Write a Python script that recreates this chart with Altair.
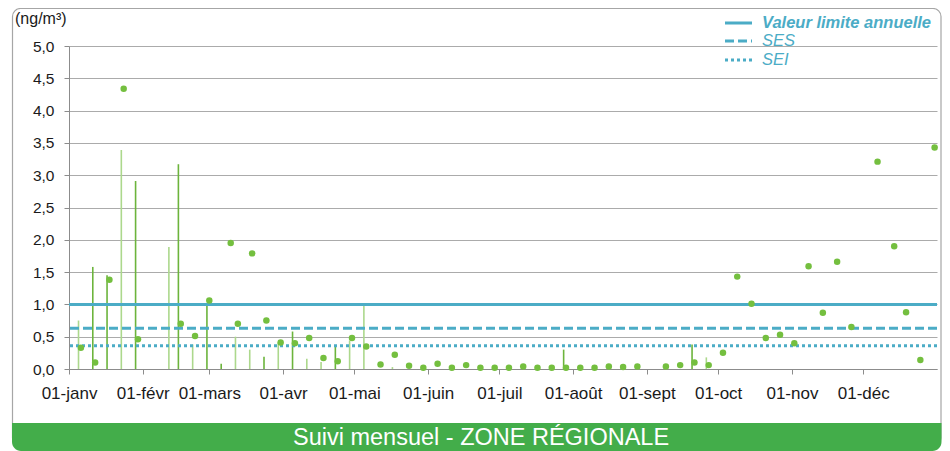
import altair as alt
import pandas as pd

YEAR = "2018"

# ---- axis categories -------------------------------------------------------
month_starts = ["01-01", "02-01", "03-01", "04-01", "05-01", "06-01",
                "07-01", "08-01", "09-01", "10-01", "11-01", "12-01"]
month_labels = ["01-janv", "01-févr", "01-mars", "01-avr", "01-mai", "01-juin",
                "01-juil", "01-août", "01-sept", "01-oct", "01-nov", "01-déc"]
y_ticks = [0.0, 0.5, 1.0, 1.5, 2.0, 2.5, 3.0, 3.5, 4.0, 4.5, 5.0]

# ---- points (weekly-ish measurements) -------------------------------------
dot_dates = ["01-06", "01-12", "01-18", "01-24", "01-30",
             "02-17", "02-23",
             "03-01", "03-10", "03-13", "03-19", "03-25", "03-31",
             "04-06", "04-12", "04-18", "04-24", "04-30",
             "05-06", "05-12", "05-18", "05-24", "05-30",
             "06-05", "06-11", "06-17", "06-23", "06-29",
             "07-05", "07-11", "07-17", "07-23", "07-29",
             "08-04", "08-10", "08-16", "08-22", "08-28",
             "09-09", "09-15", "09-21", "09-27",
             "10-03", "10-09", "10-15", "10-21", "10-27",
             "11-02", "11-08", "11-14", "11-20", "11-26",
             "12-07", "12-14", "12-19", "12-25", "12-31"]
dot_values = [0.33, 0.10, 1.38, 4.34, 0.46,
              0.70, 0.51,
              1.06, 1.95, 0.70, 1.79, 0.75, 0.41,
              0.40, 0.48, 0.17, 0.12, 0.48,
              0.35, 0.07, 0.22, 0.05, 0.02,
              0.08, 0.02, 0.06, 0.02, 0.02,
              0.02, 0.04, 0.02, 0.02, 0.02,
              0.02, 0.02, 0.04, 0.03, 0.04,
              0.04, 0.06, 0.10, 0.06,
              0.25, 1.43, 1.01, 0.48, 0.53,
              0.40, 1.59, 0.87, 1.66, 0.65,
              3.21, 1.90, 0.88, 0.14, 3.43]

# ---- thin vertical bars -------------------------------------------------------
bar_dates = ["01-05", "01-11", "01-17", "01-23", "01-29",
             "02-12", "02-16", "02-22", "02-28",
             "03-06", "03-12", "03-18", "03-24", "03-30",
             "04-05", "04-11", "04-17", "04-23", "04-29",
             "05-05", "05-17", "07-28", "09-20", "09-26"]
bar_values = [0.75, 1.58, 1.45, 3.39, 2.91,
              1.89, 3.17, 0.38, 1.00,
              0.08, 0.50, 0.30, 0.19, 0.41,
              0.58, 0.16, 0.11, 0.37, 0.44,
              0.99, 0.03, 0.30, 0.38, 0.18]
bar_series = ["clair", "foncé", "foncé", "clair", "foncé",
              "clair", "foncé", "clair", "foncé",
              "foncé", "clair", "clair", "foncé", "clair",
              "foncé", "clair", "clair", "foncé", "clair",
              "clair", "clair", "foncé", "foncé", "clair"]

# ---- reference lines -------------------------------------------------------
ref_names = ["Valeur limite annuelle", "SES", "SEI"]
ref_values = [1.0, 0.63, 0.36]

unit_label = "(ng/m³)"
banner_label = "Suivi mensuel - ZONE RÉGIONALE"

# ---------------------------------------------------------------------------
FONT = "Liberation Sans"
TEAL = "#4bacc6"
DOT_GREEN = "#74bf3f"
BANNER_GREEN = "#43ad4a"
GRID = "#ababab"


def doy(md):
    return (pd.Timestamp(f"{YEAR}-{md}") - pd.Timestamp(f"{YEAR}-01-01")).days


month_days = [doy(m) for m in month_starts]
dots = pd.DataFrame({"day": [doy(d) for d in dot_dates], "value": dot_values})
bars = pd.DataFrame({"day": [doy(d) for d in bar_dates], "value": bar_values,
                     "series": bar_series})
one = pd.DataFrame({"a": [0]})

label_array = "[" + ",".join(f"'{m}'" for m in month_labels) + "]"
day_array = "[" + ",".join(str(d) for d in month_days) + "]"

W, H = 868, 323

xs = alt.Scale(domain=[0, 365], nice=False, zero=False)
ys = alt.Scale(domain=[0, 5], nice=False)
xaxis = alt.Axis(values=month_days, labelExpr=f"{label_array}[indexof({day_array}, datum.value)]",
                 grid=False, tickSize=5, labelPadding=11, labelFontSize=17, labelFlush=False,
                 labelOverlap=False, domainColor="#8c8c8c", tickColor="#8c8c8c", title=None)
yaxis = alt.Axis(values=y_ticks, labelExpr="replace(format(datum.value, '.1f'), '.', ',')",
                 grid=True, gridColor=GRID, tickSize=5, labelPadding=10, labelFontSize=15.5,
                 labelOverlap=False, labelFlush=False,
                 domainColor="#8c8c8c", tickColor="#8c8c8c", title=None)

X = alt.X("day:Q", scale=xs, axis=xaxis)
Y = alt.Y("value:Q", scale=ys, axis=yaxis)

frame = alt.Chart(one).mark_rect(fillOpacity=0, stroke="#a6a6a6", strokeWidth=1.2,
                                 cornerRadius=8).encode(
    x=alt.value(-56.5), x2=alt.value(872), y=alt.value(-37.5), y2=alt.value(400))

banner = alt.Chart(one).mark_rect(fill=BANNER_GREEN, cornerRadiusBottomLeft=9,
                                  cornerRadiusBottomRight=9).encode(
    x=alt.value(-57), x2=alt.value(872.5), y=alt.value(377), y2=alt.value(405))

banner_text = alt.Chart(one).mark_text(text=banner_label, color="white", font=FONT,
                                       fontSize=23.5, align="center", baseline="middle").encode(
    x=alt.value(412), y=alt.value(392))

unit_text = alt.Chart(one).mark_text(text=unit_label, color="#1a1a1a", font=FONT,
                                     fontSize=16, align="left", baseline="middle").encode(
    x=alt.value(-54), y=alt.value(-27))

bar_layer = alt.Chart(bars).mark_rule(strokeWidth=1.6).encode(
    x=X, y=Y, y2=alt.datum(0),
    color=alt.Color("series:N", scale=alt.Scale(domain=["clair", "foncé"],
                                               range=["#acd88c", "#6cb43c"]), legend=None))

dashes = [[1, 0], [9, 4], [3, 3]]
ref_layers = []
legend_layers = []
legend_y = [-23, -5, 14]
for name, val, dash, ly in zip(ref_names, ref_values, dashes, legend_y):
    ref_layers.append(
        alt.Chart(pd.DataFrame({"value": [val]})).mark_rule(
            color=TEAL, strokeWidth=3, strokeDash=dash).encode(y=Y))
    legend_layers.append(
        alt.Chart(one).mark_rule(color=TEAL, strokeWidth=3, strokeDash=dash).encode(
            x=alt.value(656), x2=alt.value(683), y=alt.value(ly)))
    legend_layers.append(
        alt.Chart(one).mark_text(text=name, color=TEAL, font=FONT, fontSize=16.5,
                                 fontStyle="italic",
                                 fontWeight="bold" if name == ref_names[0] else "normal",
                                 align="left", baseline="middle").encode(
            x=alt.value(693), y=alt.value(ly)))

dot_layer = alt.Chart(dots).mark_circle(size=42, color=DOT_GREEN, opacity=1).encode(x=X, y=Y)

chart = alt.layer(frame, banner, banner_text, bar_layer, *ref_layers, dot_layer,
                  *legend_layers, unit_text).properties(
    width=W, height=H,
    autosize=alt.AutoSizeParams(type="none"),
    padding={"left": 61, "top": 38, "right": 5, "bottom": 82},
).configure_view(stroke=None).configure_axis(
    labelFont=FONT, labelColor="#1a1a1a")

chart.save("out.html", embed_options={"renderer": "svg", "actions": False})
